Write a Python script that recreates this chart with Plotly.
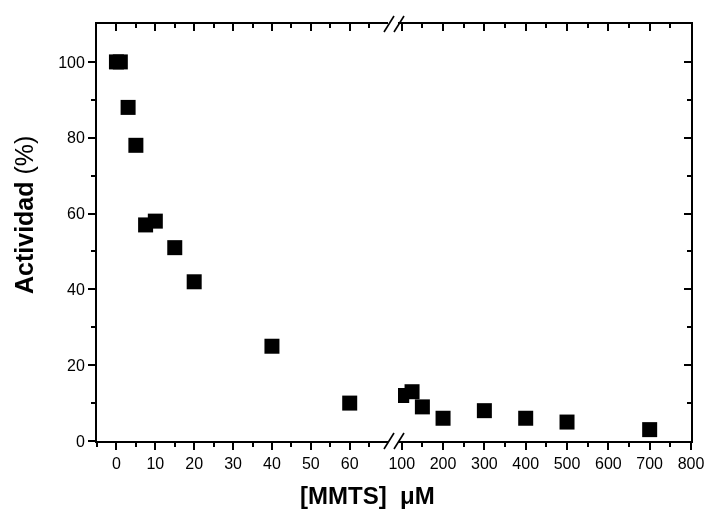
import plotly.graph_objects as go

# ---- data ----
x_low = [0, 1, 3, 5, 7.5, 10, 15, 20, 40, 60]
y_low = [100, 100, 88, 78, 57, 58, 51, 42, 25, 10]
x_high = [100, 125, 150, 200, 300, 400, 500, 700]
y_high = [12, 13, 9, 6, 8, 6, 5, 3]

x_low_ticks = [0, 10, 20, 30, 40, 50, 60]
x_low_minor = [-5, 5, 15, 25, 35, 45, 55, 65]
x_high_ticks = [100, 200, 300, 400, 500, 600, 700, 800]
x_high_minor = [150, 250, 350, 450, 550, 650, 750]
y_ticks = [0, 20, 40, 60, 80, 100]
y_minor = [10, 30, 50, 70, 90]

FONT = "Arial, Liberation Sans, sans-serif"
W, H = 706, 512
L, R, T, B = 97, 15, 24, 71
PW = W - L - R
PH = H - T - B

left_dom = [0, (388 - L) / PW]
right_dom = [(398 - L) / PW, 1]

marker = dict(symbol="square", size=15, color="black", line=dict(width=0))

fig = go.Figure()
fig.add_trace(go.Scatter(x=x_low, y=y_low, mode="markers", marker=marker,
                         xaxis="x", yaxis="y", showlegend=False))
fig.add_trace(go.Scatter(x=x_high, y=y_high, mode="markers", marker=marker,
                         xaxis="x2", yaxis="y", showlegend=False))
# invisible companions so the mirrored (top / right) axes get drawn
fig.add_trace(go.Scatter(x=x_low, y=y_low, mode="markers", opacity=0,
                         hoverinfo="skip", xaxis="x3", yaxis="y", showlegend=False))
fig.add_trace(go.Scatter(x=x_high, y=y_high, mode="markers", opacity=0,
                         hoverinfo="skip", xaxis="x4", yaxis="y2", showlegend=False))

LW = 1.8
TW = 1.5
common_x = dict(showline=True, linecolor="black", linewidth=LW, showgrid=False,
                zeroline=False, tickcolor="black", tickwidth=TW, automargin=False,
                tickfont=dict(family=FONT, size=16, color="black"))


def top_axis(dom, rng, overl, anchor, major, minor):
    return dict(domain=dom, range=rng, anchor=anchor, overlaying=overl,
                side="top", showline=False, showgrid=False, zeroline=False,
                automargin=False, showticklabels=False, tickmode="array",
                tickvals=major, ticks="inside", ticklen=7, tickwidth=TW,
                tickcolor="black",
                minor=dict(tickmode="array", tickvals=minor, ticks="inside",
                           ticklen=4, tickwidth=TW, tickcolor="black"))


fig.update_layout(
    width=W, height=H,
    margin=dict(l=L, r=R, t=T, b=B, autoexpand=False),
    paper_bgcolor="white", plot_bgcolor="white",
    xaxis=dict(domain=left_dom, range=[-5, 69.85], anchor="y",
               tickmode="array", tickvals=x_low_ticks, ticks="outside", ticklen=7,
               mirror=True,
               minor=dict(tickmode="array", tickvals=x_low_minor, ticks="outside",
                          ticklen=4, tickwidth=TW, tickcolor="black"),
               **common_x),
    xaxis2=dict(domain=right_dom, range=[91, 800], anchor="y",
                tickmode="array", tickvals=x_high_ticks, ticks="outside", ticklen=7,
                mirror=True,
                minor=dict(tickmode="array", tickvals=x_high_minor, ticks="outside",
                           ticklen=4, tickwidth=TW, tickcolor="black"),
                **common_x),
    xaxis3=top_axis(left_dom, [-5, 69.85], "x", "y", x_low_ticks, x_low_minor),
    xaxis4=top_axis(right_dom, [91, 800], "x2", "y2", x_high_ticks, x_high_minor),
    yaxis=dict(range=[0, 110], anchor="x", showline=True, linecolor="black",
               linewidth=LW, showgrid=False, zeroline=False, automargin=False,
               tickmode="array", tickvals=y_ticks, ticks="outside", ticklen=7,
               tickwidth=TW, tickcolor="black",
               tickfont=dict(family=FONT, size=16, color="black"),
               minor=dict(tickmode="array", tickvals=y_minor, ticks="outside",
                          ticklen=4, tickwidth=TW, tickcolor="black")),
    yaxis2=dict(range=[0, 110], anchor="x2", overlaying="y",
                side="right", showline=True, linecolor="black", linewidth=LW,
                showgrid=False, zeroline=False, showticklabels=False,
                automargin=False,
                tickmode="array", tickvals=y_ticks, ticks="inside", ticklen=7,
                tickwidth=TW, tickcolor="black",
                minor=dict(tickmode="array", tickvals=y_minor, ticks="inside",
                           ticklen=4, tickwidth=TW, tickcolor="black")),
)

# axis break marks "//" at bottom and top
def px2paper_x(px):
    return (px - L) / PW

dy = 8 / PH
shapes = []
for ybase in (0, 1):
    for x0 in (384, 394):
        shapes.append(dict(type="line", xref="paper", yref="paper",
                           x0=px2paper_x(x0), x1=px2paper_x(x0 + 10),
                           y0=ybase - dy, y1=ybase + dy,
                           line=dict(color="black", width=1.6)))
fig.update_layout(shapes=shapes)

fig.add_annotation(text="<b>[MMTS]&nbsp;&nbsp;μM</b>", xref="paper", yref="paper",
                   x=px2paper_x(367.5), y=-(495 - (H - B)) / PH,
                   xanchor="center", yanchor="middle", showarrow=False,
                   font=dict(family=FONT, size=24, color="black"))
fig.add_annotation(text="<b>Actividad</b> (%)", xref="paper", yref="paper",
                   x=px2paper_x(24), y=((H - B) - 215) / PH, textangle=-90,
                   xanchor="center", yanchor="middle", showarrow=False,
                   font=dict(family=FONT, size=25, color="black"))

fig.write_html("out.html", config={"displayModeBar": False})

# remove the browser's default page margin so the figure sits at (0, 0)
with open("out.html", "r", encoding="utf-8") as f:
    html = f.read()
html = html.replace("<head>", "<head><style>html,body{margin:0;padding:0;}</style>", 1)
with open("out.html", "w", encoding="utf-8") as f:
    f.write(html)
